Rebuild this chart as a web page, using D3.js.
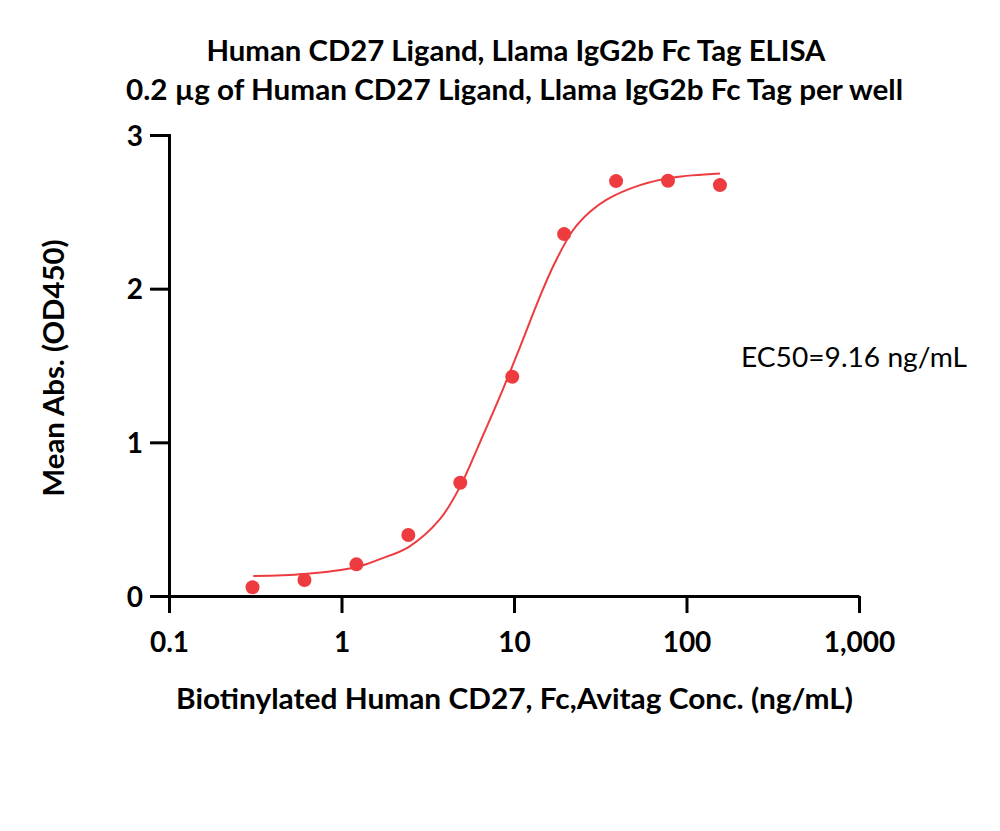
<!DOCTYPE html>
<html>
<head>
<meta charset="utf-8">
<script src="https://cdn.jsdelivr.net/npm/d3@7"></script>
<style>
  html, body { margin: 0; padding: 0; background: #fff; }
  svg { display: block; }
</style>
</head>
<body>
<svg id="chart" width="1000" height="831"></svg>
<script>
// ---- data ----
const concentrations = [0.305, 0.61, 1.22, 2.44, 4.88, 9.77, 19.53, 39.06, 78.13, 156.25];
const meanAbs = [0.057, 0.104, 0.206, 0.397, 0.737, 1.427, 2.355, 2.700, 2.702, 2.674];
// fitted curve
const fitConc = [0.308, 0.606, 1.21, 1.67, 2.46, 3.72, 4.86, 6.35, 8.30, 10.83, 14.15, 17.28, 21.98, 27.58, 34.46, 53.8, 83.5, 156.25];
const fitAbs  = [0.130, 0.143, 0.187, 0.240, 0.320, 0.500, 0.710, 1.000, 1.300, 1.620, 1.950, 2.170, 2.380, 2.500, 2.580, 2.674, 2.724, 2.750];
const xTicks = [0.1, 1, 10, 100, 1000];
const yTicks = [0, 1, 2, 3];
const titleLines = ["Human CD27 Ligand, Llama IgG2b Fc Tag ELISA",
                    "0.2 \u00b5g of Human CD27 Ligand, Llama IgG2b Fc Tag per well"];
const xLabel = "Biotinylated Human CD27, Fc,Avitag Conc. (ng/mL)";
const yLabel = "Mean Abs. (OD450)";
const ec50Label = "EC50=9.16 ng/mL";

// ---- layout ----
const svg = d3.select("#chart");
const red = "#ee3b3f";
const font = "Lato, 'Open Sans', sans-serif";

const x = d3.scaleLog().domain([0.1, 1000]).range([169, 859]);
const y = d3.scaleLinear().domain([0, 3]).range([596, 135]);

// titles
svg.append("text").attr("x", 516).attr("y", 61)
  .attr("text-anchor", "middle").attr("font-family", font).attr("font-weight", 700)
  .attr("font-size", 28).attr("textLength", 619).attr("lengthAdjust", "spacingAndGlyphs")
  .text(titleLines[0]);
svg.append("text").attr("x", 514.5).attr("y", 100)
  .attr("text-anchor", "middle").attr("font-family", font).attr("font-weight", 700)
  .attr("font-size", 28).attr("textLength", 777).attr("lengthAdjust", "spacingAndGlyphs")
  .text(titleLines[1]);

// x axis
const fmt = d3.format(",");
const xAxis = svg.append("g").attr("transform", `translate(0,${y(0)})`)
  .call(d3.axisBottom(x).tickValues(xTicks).tickFormat(d => fmt(d)).tickSize(17).tickSizeOuter(0).tickPadding(16));
xAxis.select(".domain").attr("stroke", "#000").attr("stroke-width", 3);
xAxis.selectAll(".tick line").attr("stroke", "#000").attr("stroke-width", 3);
xAxis.selectAll(".tick text").attr("font-family", font).attr("font-weight", 700)
  .attr("font-size", 28).attr("fill", "#000").attr("dy", null).attr("y", 56);

// y axis
const yAxis = svg.append("g").attr("transform", `translate(${x(0.1)},0)`)
  .call(d3.axisLeft(y).tickValues(yTicks).tickFormat(d3.format("d")).tickSize(19).tickSizeOuter(0).tickPadding(7));
yAxis.select(".domain").attr("stroke", "#000").attr("stroke-width", 3).attr("stroke-linecap", "square");
yAxis.selectAll(".tick line").attr("stroke", "#000").attr("stroke-width", 3);
yAxis.selectAll(".tick text").attr("font-family", font).attr("font-weight", 700)
  .attr("font-size", 28).attr("fill", "#000").attr("dy", "0.36em");

// fitted curve
const line = d3.line().x((d, i) => x(fitConc[i])).y((d, i) => y(fitAbs[i])).curve(d3.curveCatmullRom.alpha(0.5));
svg.append("path").datum(fitConc).attr("d", line)
  .attr("fill", "none").attr("stroke", red).attr("stroke-width", 2);

// points
svg.append("g").selectAll("circle").data(concentrations).join("circle")
  .attr("cx", d => x(d)).attr("cy", (d, i) => y(meanAbs[i])).attr("r", 7)
  .attr("fill", red);

// EC50 annotation
svg.append("text").attr("x", 741).attr("y", 366.5)
  .attr("font-family", font).attr("font-weight", 400).attr("font-size", 26)
  .attr("textLength", 226).attr("lengthAdjust", "spacingAndGlyphs")
  .text(ec50Label);

// axis titles
svg.append("text").attr("x", 514.5).attr("y", 709)
  .attr("text-anchor", "middle").attr("font-family", font).attr("font-weight", 700)
  .attr("font-size", 28).attr("textLength", 677).attr("lengthAdjust", "spacingAndGlyphs")
  .text(xLabel);
svg.append("text").attr("transform", "translate(64,368) rotate(-90)")
  .attr("text-anchor", "middle").attr("font-family", font).attr("font-weight", 700)
  .attr("font-size", 28).attr("textLength", 257).attr("lengthAdjust", "spacingAndGlyphs")
  .text(yLabel);
</script>
</body>
</html>
